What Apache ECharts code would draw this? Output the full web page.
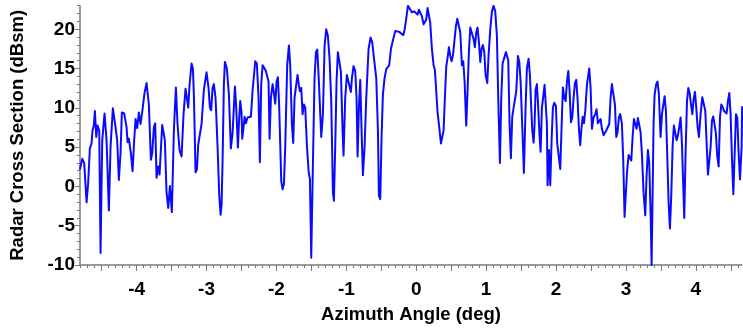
<!DOCTYPE html>
<html>
<head>
<meta charset="utf-8">
<script src="https://cdn.jsdelivr.net/npm/echarts@6/dist/echarts.min.js"></script>
<style>html,body{margin:0;padding:0;background:#fff;}#c{width:743px;height:329px;}</style>
</head>
<body>
<div id="c"></div>
<script>
const azimuth = [
-4.812,-4.778,-4.750,-4.716,-4.693,-4.669,-4.645,-4.631,-4.612,-4.597,-4.578,-4.559,-4.535,-4.516,-4.492,-4.459,-4.430,-4.397,-4.373,-4.340,
-4.302,-4.278,-4.254,-4.230,-4.211,-4.178,-4.144,-4.130,-4.111,-4.092,-4.082,-4.058,-4.035,-4.015,-3.992,-3.968,-3.944,-3.915,-3.887,-3.858,
-3.825,-3.796,-3.777,-3.753,-3.734,-3.715,-3.691,-3.672,-3.653,-3.634,-3.615,-3.596,-3.572,-3.548,-3.524,-3.496,-3.467,-3.438,-3.415,-3.386,
-3.357,-3.329,-3.300,-3.281,-3.262,-3.243,-3.214,-3.195,-3.181,-3.157,-3.138,-3.119,-3.100,-3.071,-3.038,-3.000,-2.971,-2.952,-2.933,-2.914,
-2.895,-2.871,-2.842,-2.818,-2.799,-2.785,-2.771,-2.752,-2.737,-2.709,-2.680,-2.652,-2.628,-2.609,-2.594,-2.575,-2.551,-2.537,-2.518,-2.499,
-2.489,-2.475,-2.456,-2.437,-2.413,
-2.365,-2.342,-2.303,-2.280,-2.256,-2.237,-2.218,-2.198,-2.170,-2.151,-2.132,-2.113,-2.098,-2.079,-2.055,-2.036,-2.017,-1.998,-1.979,-1.960,
-1.931,-1.912,-1.893,-1.874,-1.846,-1.822,-1.803,-1.779,-1.760,-1.741,-1.717,-1.698,-1.679,-1.664,-1.645,-1.626,-1.607,-1.588,-1.564,-1.540,
-1.521,-1.502,-1.478,-1.455,-1.435,-1.416,-1.393,-1.359,-1.335,-1.311,-1.288,-1.264,-1.240,-1.216,-1.192,-1.178,-1.159,-1.140,-1.121,-1.097,
-1.078,-1.054,-1.040,-1.016,-0.992,-0.978,-0.959,-0.935,-0.920,-0.897,-0.873,-0.854,-0.839,-0.820,-0.801,-0.782,-0.763,-0.739,-0.715,-0.682,
-0.653,-0.630,-0.601,-0.572,-0.548,-0.534,-0.515,-0.496,-0.477,-0.453,-0.429,-0.405,-0.386,-0.362,-0.329,-0.300,-0.277,-0.243,-0.215,-0.186,
-0.167,-0.148,-0.119,-0.091,-0.062,-0.033,-0.014,
0.019,0.038,0.057,0.081,0.105,0.124,0.143,0.162,0.181,0.200,0.224,0.248,0.267,0.286,0.305,0.329,0.353,0.372,0.391,0.410,
0.429,0.453,0.467,0.486,0.506,0.525,0.544,0.568,0.587,0.610,0.630,0.653,0.672,0.692,0.715,0.734,0.753,0.773,0.796,0.820,
0.839,0.858,0.877,0.897,0.916,0.935,0.954,0.973,0.992,1.016,1.035,1.059,1.083,1.106,1.130,1.154,1.173,1.197,1.216,1.235,
1.259,1.283,1.302,1.316,1.335,1.354,1.373,1.393,1.416,1.431,1.455,1.474,1.493,1.517,1.540,1.564,1.583,1.607,1.626,1.645,
1.660,1.679,1.693,1.707,1.726,1.741,1.765,1.779,1.798,1.822,1.836,1.855,1.869,1.879,1.898,1.917,1.936,1.955,1.974,1.998,
2.017,2.041,2.060,2.079,2.098,2.117,2.137,2.156,2.175,2.194,2.213,2.232,2.251,2.270,2.289,2.308,2.327,2.346,
2.361,2.380,2.399,2.418,2.442,2.475,2.494,2.513,2.537,2.561,2.580,2.599,2.618,2.637,2.656,2.680,2.699,2.718,2.742,2.761,
2.780,2.799,2.823,2.842,2.861,2.880,2.899,2.918,2.942,2.961,2.980,2.999,3.018,3.038,3.057,3.076,3.095,3.114,3.133,3.152,
3.171,3.190,3.209,3.228,3.252,3.276,3.295,3.314,3.333,3.353,3.367,3.381,3.395,3.410,3.433,3.452,3.471,3.495,3.515,3.534,
3.553,3.572,3.591,3.610,3.629,3.648,3.667,3.686,3.706,3.725,3.744,3.763,3.782,3.801,3.820,3.834,3.853,3.873,3.892,3.911,
3.930,3.949,3.968,3.987,4.006,4.025,4.044,4.068,4.092,4.116,4.135,4.158,4.173,4.192,4.211,4.230,4.249,4.268,4.287,4.306,
4.326,4.345,4.364,4.383,4.402,4.421,4.440,4.459,4.478,4.497,4.517,4.536,4.555,4.574,4.593,4.612,4.631,4.641,4.655,4.662
];
const rcs = [
2.14,3.51,2.97,-2.02,0.47,4.84,5.46,7.12,7.74,9.61,6.29,7.74,7.12,-8.46,5.87,9.28,5.87,-3.06,5.04,9.95,
7.54,5.87,0.81,4.21,9.41,9.28,7.54,5.63,6.08,6.08,4.21,1.93,5.87,8.58,7.41,9.41,7.95,9.82,11.90,13.15,
10.44,3.38,4.21,7.54,8.03,1.10,2.55,1.51,1.60,7.83,7.83,5.87,-0.77,-2.73,0.04,-3.27,7.12,12.60,7.95,4.63,
3.80,9.20,12.44,11.28,10.03,12.94,15.64,15.01,11.69,1.80,2.14,5.33,5.54,7.95,12.31,14.52,12.52,10.03,9.70,12.52,
13.02,11.28,5.04,-1.19,-3.60,-2.43,2.97,12.94,15.85,15.01,11.69,4.84,6.71,10.03,12.73,10.03,4.96,7.95,10.86,9.41,
6.08,7.12,8.87,8.03,8.78,
8.87,12.11,15.93,15.64,11.28,3.09,12.94,15.43,15.01,14.68,14.93,13.35,6.08,11.28,13.02,11.90,10.53,13.35,13.89,10.03,
0.68,-0.36,0.27,5.04,15.43,17.92,15.43,7.95,5.54,11.28,12.94,14.18,12.85,12.11,12.52,9.20,10.44,10.03,5.25,1.93,
0.89,-9.08,2.97,13.77,17.09,17.42,13.35,6.29,9.20,17.92,20.00,19.17,16.26,10.86,-0.77,-1.81,5.04,13.35,17.09,17.17,
14.60,7.12,3.92,11.28,14.18,14.27,12.94,12.02,13.77,15.31,14.68,11.28,3.80,10.03,13.56,7.12,1.43,5.04,11.28,17.51,
18.96,18.34,16.05,13.77,7.12,-1.19,-1.60,6.29,11.69,13.77,14.93,14.93,15.43,17.51,18.75,19.79,19.58,19.67,19.71,19.25,
19.92,21.04,22.99,23.00,22.16,22.28,22.24,
21.87,22.49,22.41,21.66,20.62,20.50,21.25,22.70,22.58,20.83,17.51,15.43,14.81,12.11,9.41,7.54,5.46,5.25,7.12,11.28,
15.22,16.68,17.72,16.68,15.93,16.68,18.34,20.42,21.33,21.25,19.58,15.43,15.93,13.35,7.74,12.11,17.09,20.21,20.21,18.75,
17.72,19.58,20.21,18.34,15.85,17.51,18.01,17.09,14.18,13.15,16.68,20.00,22.28,22.99,22.28,19.17,11.28,2.97,11.28,15.64,
15.85,17.09,17.30,16.05,7.95,3.59,8.78,10.03,10.11,12.11,16.59,15.85,13.35,7.54,1.72,10.03,15.01,16.26,14.18,10.03,
7.12,5.58,7.95,12.31,13.02,10.65,6.29,4.42,10.03,10.03,12.94,12.73,7.95,0.14,4.63,0.14,5.87,10.03,10.65,10.24,
5.46,5.25,2.22,7.54,12.60,11.36,10.86,13.35,14.68,12.11,8.16,8.78,11.28,13.15,13.56,11.07,7.33,5.25,
7.12,8.87,8.03,9.61,12.94,15.01,12.52,7.33,8.78,9.20,9.82,8.03,8.03,8.58,7.33,6.50,6.29,7.12,7.33,7.95,
11.28,13.02,12.94,10.44,6.29,6.91,8.78,9.20,7.95,3.38,-3.89,-0.77,2.14,4.00,4.00,3.30,6.29,8.58,8.45,7.33,
8.70,8.58,6.91,4.21,-0.77,-3.68,1.31,4.63,2.97,-3.68,-10.00,-1.19,7.95,11.69,13.02,13.35,11.69,6.29,9.20,9.41,
11.48,9.61,3.80,-2.02,-5.34,-1.19,5.04,7.74,7.62,5.87,6.50,6.71,8.78,5.46,5.46,-4.01,4.21,10.86,12.52,11.90,
10.44,9.20,11.07,12.02,10.03,7.54,6.29,9.20,11.36,11.48,9.61,4.63,1.51,1.72,5.04,8.37,8.91,8.78,6.71,3.80,
2.55,8.78,10.44,10.11,9.61,9.41,9.28,10.86,11.90,9.20,3.38,-0.98,4.21,9.20,8.70,4.21,0.89,0.68,5.04,10.20
];
const xTickLabels = [-4, -3, -2, -1, 0, 1, 2, 3, 4];
const yTickLabels = [-10, -5, 0, 5, 10, 15, 20];

const xMin = -4.81, xMax = 4.66, yMin = -10, yMax = 23;
const xHalfTicks = [], xTenthTicks = [], yUnitTicks = [];
for (let k = -9; k <= 9; k++) xHalfTicks.push(k / 2);
for (let k = -48; k <= 46; k++) xTenthTicks.push(k / 10);
for (let k = -10; k <= 23; k++) yUnitTicks.push(k);

const points = azimuth.map((x, i) => [x, rcs[i]]);
const axisColor = '#7a7a7a';
const labelFont = { color: '#000', fontSize: 19, fontWeight: 'bold', fontFamily: 'Liberation Sans, Arial, sans-serif' };
const nameFont = { color: '#000', fontSize: 18.5, fontWeight: 'bold', fontFamily: 'Liberation Sans, Arial, sans-serif' };

const chart = echarts.init(document.getElementById('c'), null, { renderer: 'canvas' });
chart.setOption({
  animation: false,
  backgroundColor: '#fff',
  grid: { left: 80, right: 1, top: 5.7, bottom: 58.3, containLabel: false },
  xAxis: [{
    type: 'value', min: xMin, max: xMax,
    name: 'Azimuth Angle (deg)', nameLocation: 'middle', nameGap: 40,
    nameTextStyle: nameFont,
    axisLine: { show: true, onZero: false, lineStyle: { color: axisColor, width: 1.5 } },
    axisTick: { show: true, customValues: xHalfTicks, length: 6, lineStyle: { color: axisColor, width: 1 } },
    axisLabel: Object.assign({ customValues: xTickLabels, margin: 15 }, labelFont),
    splitLine: { show: false }
  }, {
    type: 'value', min: xMin, max: xMax, position: 'bottom',
    axisLine: { show: false, onZero: false },
    axisTick: { show: true, customValues: xTenthTicks, length: 3, lineStyle: { color: axisColor, width: 1 } },
    axisLabel: { show: false },
    splitLine: { show: false }
  }],
  yAxis: [{
    type: 'value', min: yMin, max: yMax,
    name: 'Radar Cross Section (dBsm)', nameLocation: 'middle', nameGap: 53,
    nameTextStyle: nameFont,
    axisLine: { show: true, onZero: false, lineStyle: { color: axisColor, width: 1.5 } },
    axisTick: { show: true, customValues: yTickLabels, length: 5, lineStyle: { color: axisColor, width: 1 } },
    axisLabel: Object.assign({ customValues: yTickLabels, margin: 5 }, labelFont),
    splitLine: { show: false }
  }, {
    type: 'value', min: yMin, max: yMax, position: 'left',
    axisLine: { show: false, onZero: false },
    axisTick: { show: true, customValues: yUnitTicks, length: 3, lineStyle: { color: axisColor, width: 1 } },
    axisLabel: { show: false },
    splitLine: { show: false }
  }],
  series: [{
    type: 'line', data: points, xAxisIndex: 0, yAxisIndex: 0,
    showSymbol: false, smooth: false, clip: true,
    lineStyle: { color: '#0a0aff', width: 2, join: 'round' }
  }]
});
</script>
</body>
</html>
